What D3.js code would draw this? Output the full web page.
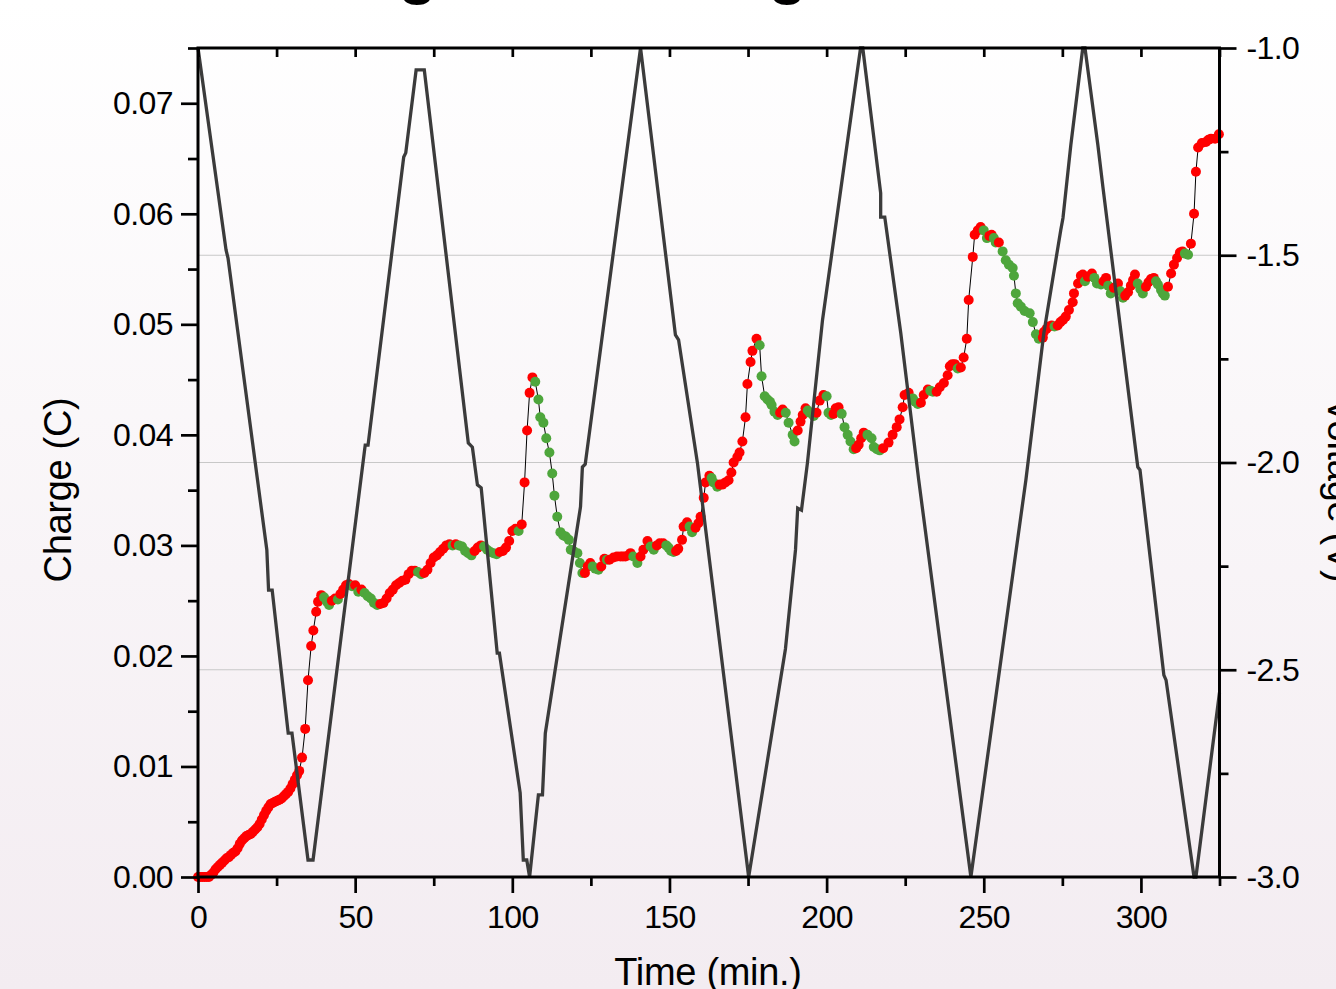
<!DOCTYPE html>
<html><head><meta charset="utf-8">
<script src="https://cdn.jsdelivr.net/npm/d3@7"></script>
<style>html,body{margin:0;padding:0;overflow:hidden;background:#fff}svg{display:block}text{font-family:"Liberation Sans",Arial,sans-serif}</style>
</head><body>
<svg id="chart" width="1336" height="989"></svg>
<script>
// ---- data ----
const chargeTime = [0,0.7,1.4,2.1,2.8,3.5,4.2,4.9,5.6,6.3,7.0,7.7,8.4,9.1,9.8,10.5,11.2,11.9,12.6,13.3,14.0,14.7,15.4,16.1,16.8,17.5,18.2,18.9,19.6,20.3,21.0,21.7,22.4,23.1,23.8,24.5,25.2,25.9,26.6,27.3,28.0,28.7,29.4,30.1,30.8,31.5,32.2,
33.1,34.1,35.0,36.0,36.7,37.6,38.2,39.2,40.1,41.0,41.7,42.6,43.6,44.5,45.3,46.2,47.1,48.0,49.0,50.0,51.0,52.0,53.0,54.0,55.0,56.0,57.0,58.0,59.0,60.0,61.0,62.0,63.0,64.0,65.0,66.0,67.0,68.0,69.0,70.0,71.0,72.0,73.0,74.0,75.0,76.0,77.0,78.0,79.0,80.0,81.0,82.0,83.0,84.0,85.0,86.0,87.0,88.0,89.0,90.0,91.0,92.0,93.0,94.0,95.0,96.0,97.0,98.0,99.0,100.0,101.0,102.0,103.0,103.9,104.7,105.5,106.4,107.3,108.3,108.9,109.9,110.8,111.8,112.7,113.4,114.3,115.3,116.2,117.0,118.0,118.6,119.5,120.7,121.5,122.3,123.1,124.0,124.8,125.6,126.4,127.4,128.3,129.3,130.1,130.9,132.2,133.3,134.4,135.2,136.0,137.0,137.6,138.5,139.8,140.8,141.7,143.0,144.0,145.0,146.0,146.9,148.0,149.0,149.7,150.5,151.3,152.1,152.8,154.0,154.5,155.6,156.4,157.2,158.3,159.2,159.9,160.9,161.5,162.7,163.4,164.0,165.2,166.0,166.8,167.8,168.8,169.7,170.4,171.6,172.3,173.2,174.2,174.8,175.8,176.4,177.7,178.7,179.3,180.3,181.2,182.0,182.5,183.4,184.4,185.2,186.0,187.0,187.9,189.2,189.8,190.8,191.7,192.4,193.3,194.0,194.6,195.9,196.8,197.8,199.0,200.0,200.6,201.4,202.2,202.9,203.8,204.8,205.7,206.7,207.6,208.6,209.4,210.2,211.0,211.8,213.0,214.3,215.0,216.0,216.9,218.0,219.7,221.0,222.3,223.2,224.2,224.8,226.1,227.4,228.2,229.0,230.0,230.9,232.2,233.0,233.8,235.0,236.0,237.3,238.5,239.2,240.0,240.8,241.7,242.7,243.6,244.6,245.2,246.5,247.1,248.1,249.0,250.0,251.0,251.8,252.5,253.2,253.8,254.8,256.0,257.0,258.0,259.2,259.6,260.2,260.8,261.8,263.0,264.6,265.6,266.6,267.5,268.8,269.1,270.0,270.7,271.6,272.5,273.5,274.4,275.2,276.1,277.1,278.3,278.7,280.0,280.9,281.5,282.2,283.1,284.4,285.2,286.0,287.3,288.1,288.9,289.6,290.4,291.4,292.7,293.5,294.3,295.0,295.9,296.8,297.5,298.1,299.0,299.8,300.6,301.6,302.4,303.2,304.1,304.8,305.4,306.4,307.0,307.6,308.6,309.6,310.5,311.5,312.4,313.2,314.0,315.0,315.9,316.9,317.5,318.2,319.4,320.7,321.5,322.3,323.6,324.8];
const chargeValue = [0,0,0,0,0,0.000005,0.0002,0.0004,0.0007,0.0009,0.0011,0.0013,0.0015,0.0017,0.0018,0.0020,0.0022,0.0023,0.0026,0.0030,0.0033,0.0035,0.0037,0.0038,0.0039,0.0041,0.0043,0.0045,0.0048,0.0052,0.0056,0.0060,0.0063,0.0066,0.0067,0.0068,0.0069,0.0070,0.0071,0.0073,0.0075,0.0077,0.0080,0.0084,0.0088,0.0092,0.0096,
0.0108,0.0134,0.0178,0.0209,0.0223,0.0240,0.0249,0.0255,0.0253,0.0249,0.0246,0.0250,0.0252,0.0251,0.0256,0.0260,0.0264,0.0265,0.0263,0.0264,0.0258,0.0260,0.0257,0.0254,0.0252,0.0248,0.0246,0.0247,0.0248,0.0252,0.0257,0.0260,0.0264,0.0266,0.0268,0.0269,0.0274,0.0277,0.0277,0.0276,0.0274,0.0275,0.0278,0.0284,0.0289,0.0291,0.0294,0.0297,0.0300,0.0301,0.0300,0.0301,0.0300,0.0299,0.0295,0.0293,0.0291,0.0295,0.0298,0.0300,0.0299,0.0296,0.0294,0.0293,0.0292,0.0294,0.0295,0.0298,0.0304,0.0313,0.0315,0.0313,0.0319,0.0357,0.0404,0.0438,0.0452,0.0448,0.0432,0.0416,0.0411,0.0397,0.0384,0.0365,0.0345,0.0326,0.0312,0.0309,0.0308,0.0305,0.0296,0.0295,0.0293,0.0284,0.0275,0.0275,0.0281,0.0284,0.0281,0.0279,0.0278,0.0281,0.0288,0.0287,0.0287,0.0289,0.0290,0.0290,0.0290,0.0290,0.0291,0.0293,0.0290,0.0284,0.0290,0.0296,0.0304,0.0299,0.0296,0.0300,0.0302,0.0302,0.0300,0.0298,0.0295,0.0294,0.0295,0.0297,0.0305,0.0317,0.0321,0.0317,0.0312,0.0316,0.0320,0.0326,0.0343,0.0357,0.0363,0.0361,0.0357,0.0353,0.0355,0.0355,0.0357,0.0359,0.0366,0.0375,0.0380,0.0384,0.0394,0.0416,0.0446,0.0466,0.0476,0.0487,0.0481,0.0453,0.0435,0.0432,0.0430,0.0427,0.0421,0.0418,0.0420,0.0423,0.0420,0.0411,0.0400,0.0394,0.0404,0.0412,0.0418,0.0424,0.0422,0.0420,0.0417,0.0420,0.0431,0.0436,0.0435,0.0420,0.0418,0.0419,0.0424,0.0425,0.0419,0.0407,0.0400,0.0394,0.0387,0.0388,0.0391,0.0397,0.0402,0.0400,0.0397,0.0389,0.0387,0.0386,0.0388,0.0393,0.0400,0.0407,0.0414,0.0425,0.0436,0.0438,0.0433,0.0430,0.0428,0.0429,0.0436,0.0441,0.0440,0.0439,0.0439,0.0443,0.0447,0.0454,0.0462,0.0464,0.0464,0.0460,0.0461,0.0470,0.0487,0.0522,0.0561,0.0581,0.0585,0.0588,0.0585,0.0578,0.0580,0.0581,0.0578,0.0574,0.0574,0.0566,0.0558,0.0554,0.0551,0.0544,0.0528,0.0519,0.0516,0.0512,0.0510,0.0502,0.0491,0.0487,0.0488,0.0493,0.0496,0.0498,0.0499,0.0498,0.0499,0.0502,0.0504,0.0507,0.0513,0.0520,0.0528,0.0537,0.0544,0.0545,0.0539,0.0543,0.0546,0.0542,0.0537,0.0536,0.0539,0.0542,0.0535,0.0528,0.0533,0.0537,0.0530,0.0524,0.0526,0.0529,0.0535,0.0540,0.0545,0.0537,0.0532,0.0528,0.0534,0.0538,0.0541,0.0542,0.0539,0.0536,0.0531,0.0528,0.0526,0.0534,0.0546,0.0554,0.0560,0.0565,0.0566,0.0564,0.0563,0.0573,0.0600,0.0638,0.0660,0.0664,0.0665,0.0667,0.0668,0.0668,0.0672];

const voltTime = [0,8.92,9.55,21.9,22.45,23.6,28.7,29.9,35.0,36.6,53.2,54.1,65.45,66.1,69.4,72.0,86.0,87.3,88.9,90.1,95.2,95.9,102.5,103.5,104.6,105.5,108.3,109.6,110.5,121.7,122.3,123.2,140.8,151.9,152.9,158.9,175.2,186.9,190.1,190.8,192.0,193.9,198.7,210.8,211.5,217.2,217.2,218.5,223.6,229.3,245.9,263.4,269.1,274.5,275.2,277.7,281.5,282.2,286.3,287.9,299.0,299.7,307.3,308.0,316.9,317.5,325];
const voltValue = [-1.0,-1.487,-1.507,-2.211,-2.308,-2.308,-2.653,-2.653,-2.959,-2.959,-1.958,-1.958,-1.263,-1.253,-1.053,-1.053,-1.953,-1.963,-2.054,-2.061,-2.460,-2.460,-2.797,-2.959,-2.959,-3.0,-2.802,-2.802,-2.653,-2.107,-2.011,-2.004,-1.0,-1.692,-1.704,-2.001,-3.0,-2.45,-2.211,-2.110,-2.115,-2.001,-1.656,-1.0,-1.0,-1.35,-1.408,-1.408,-1.688,-2.042,-3.0,-2.042,-1.688,-1.439,-1.41,-1.234,-1.0,-1.0,-1.234,-1.335,-2.011,-2.018,-2.513,-2.525,-3.0,-3.0,-2.555];

const xMajor = [0,50,100,150,200,250,300];
const xMinor = [25,75,125,175,225,275,325];
const xTop = [0,25,50,75,100,125,150,175,200,225,250,275,300,325];
const qMajor = [0,0.01,0.02,0.03,0.04,0.05,0.06,0.07];
const qMinor = [0.005,0.015,0.025,0.035,0.045,0.055,0.065,0.075];
const vMajor = [-3.0,-2.5,-2.0,-1.5,-1.0];
const vMinor = [-2.75,-2.25,-1.75,-1.25];
const vGrid = [-2.5,-2.0,-1.5];

// ---- drawing ----
const svg = d3.select("#chart");
const defs = svg.append("defs");
const grad = defs.append("linearGradient").attr("id","bg").attr("x1",0).attr("y1",0).attr("x2",0).attr("y2",1);
grad.append("stop").attr("offset","0%").attr("stop-color","#ffffff");
grad.append("stop").attr("offset","100%").attr("stop-color","#f3ecf1");
svg.append("rect").attr("width",1336).attr("height",989).attr("fill","url(#bg)");

const L = 198, R = 1219.5, T = 48, B = 877;
const x = d3.scaleLinear([0,325],[L,R]);
const yQ = d3.scaleLinear([0,0.075],[B,T]);
const yV = d3.scaleLinear([-3,-1],[B,T]);

// grid
svg.append("g").selectAll("line").data(vGrid).join("line")
  .attr("x1",L).attr("x2",R).attr("y1",d=>yV(d)).attr("y2",d=>yV(d))
  .attr("stroke","#c8c8c8").attr("stroke-width",1.2);

// charge line + dots
const pts = chargeTime.map((t,i)=>({t, q:chargeValue[i], down: i>0 && chargeValue[i] < chargeValue[i-1]}));
svg.append("path").datum(pts)
  .attr("d", d3.line().x(d=>x(d.t)).y(d=>yQ(d.q)))
  .attr("fill","none").attr("stroke","#000").attr("stroke-width",1);
svg.append("g").selectAll("circle").data(pts).join("circle")
  .attr("cx",d=>x(d.t)).attr("cy",d=>yQ(d.q)).attr("r",5)
  .attr("fill",d=>d.down ? "#4ea63c" : "#ff0000");

// voltage
const vpts = voltTime.map((t,i)=>({t, v:voltValue[i]}));
svg.append("path").datum(vpts)
  .attr("d", d3.line().x(d=>x(d.t)).y(d=>yV(d.v)))
  .attr("fill","none").attr("stroke","#3b3b3b").attr("stroke-width",3.3).attr("stroke-linejoin","miter");

// axes
function styleAxis(g){
  g.select(".domain").remove();
  g.selectAll(".tick line").attr("stroke","#000").attr("stroke-width",2.7);
  g.selectAll(".tick text").attr("fill","#000").attr("font-size",32).attr("letter-spacing","-0.6px")
    .attr("font-family",'"Liberation Sans", Arial, sans-serif');
}
svg.append("g").attr("transform",`translate(0,${B})`)
  .call(d3.axisBottom(x).tickValues(xMajor).tickSize(16).tickPadding(12).tickFormat(d3.format("d"))).call(styleAxis);
svg.append("g").attr("transform",`translate(0,${B})`)
  .call(d3.axisBottom(x).tickValues(xMinor).tickSize(9).tickFormat("")).call(styleAxis);
svg.append("g").attr("transform",`translate(0,${T})`)
  .call(d3.axisBottom(x).tickValues(xTop).tickSize(9).tickFormat("")).call(styleAxis);
svg.append("g").attr("transform",`translate(${L},0)`)
  .call(d3.axisLeft(yQ).tickValues(qMajor).tickSize(17).tickPadding(8).tickFormat(d=>d.toFixed(2))).call(styleAxis);
svg.append("g").attr("transform",`translate(${L},0)`)
  .call(d3.axisLeft(yQ).tickValues(qMinor).tickSize(10).tickFormat("")).call(styleAxis);
svg.append("g").attr("transform",`translate(${R},0)`)
  .call(d3.axisRight(yV).tickValues(vMajor).tickSize(17).tickPadding(10).tickFormat(d=>d.toFixed(1))).call(styleAxis);
svg.append("g").attr("transform",`translate(${R},0)`)
  .call(d3.axisRight(yV).tickValues(vMinor).tickSize(9).tickFormat("")).call(styleAxis);

// frame
svg.append("rect").attr("x",L).attr("y",T).attr("width",R-L).attr("height",B-T)
  .attr("fill","none").attr("stroke","#000").attr("stroke-width",3);

// titles
svg.append("text").attr("x",255).attr("y",-8).attr("font-size",63).attr("font-weight","bold")
  .attr("fill","#000").text("Charge and Voltage vs. Time");
svg.append("text").attr("transform","translate(71,490) rotate(-90)").attr("text-anchor","middle")
  .attr("font-size",38).attr("letter-spacing","-0.3px").attr("fill","#000").text("Charge (C)");
svg.append("text").attr("transform","translate(1328,490) rotate(90)").attr("text-anchor","middle")
  .attr("font-size",38).attr("letter-spacing","-0.3px").attr("fill","#000").text("Voltage (V)");
svg.append("text").attr("x",708).attr("y",985).attr("text-anchor","middle")
  .attr("font-size",38).attr("letter-spacing","-0.3px").attr("fill","#000").text("Time (min.)");
</script>
</body></html>
